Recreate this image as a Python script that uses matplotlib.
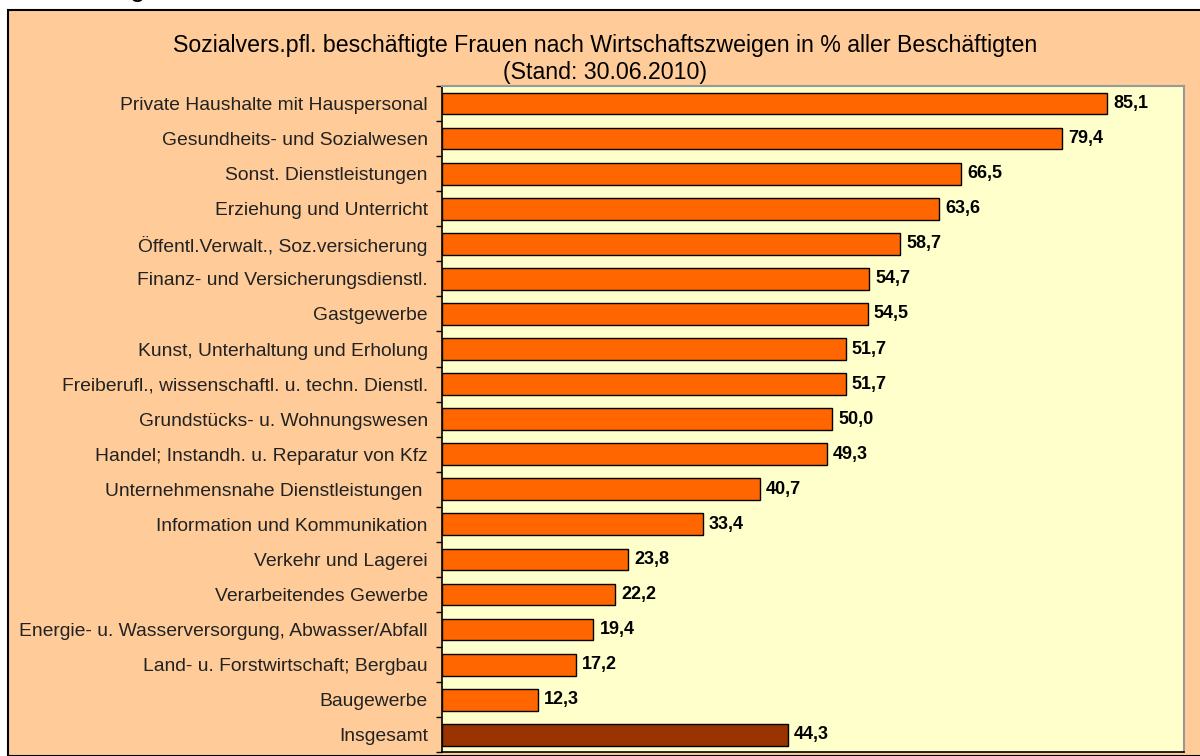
import matplotlib
matplotlib.use("Agg")
import matplotlib.pyplot as plt
from matplotlib.patches import Rectangle
import numpy as np

plt.rcParams['font.family'] = ['Liberation Sans', 'DejaVu Sans']

categories = [
    "Private Haushalte mit Hauspersonal",
    "Gesundheits- und Sozialwesen",
    "Sonst. Dienstleistungen",
    "Erziehung und Unterricht",
    "Öffentl.Verwalt., Soz.versicherung",
    "Finanz- und Versicherungsdienstl.",
    "Gastgewerbe",
    "Kunst, Unterhaltung und Erholung",
    "Freiberufl., wissenschaftl. u. techn. Dienstl.",
    "Grundstücks- u. Wohnungswesen",
    "Handel; Instandh. u. Reparatur von Kfz",
    "Unternehmensnahe Dienstleistungen ",
    "Information und Kommunikation",
    "Verkehr und Lagerei",
    "Verarbeitendes Gewerbe",
    "Energie- u. Wasserversorgung, Abwasser/Abfall",
    "Land- u. Forstwirtschaft; Bergbau",
    "Baugewerbe",
    "Insgesamt",
]
values = [85.1, 79.4, 66.5, 63.6, 58.7, 54.7, 54.5, 51.7, 51.7, 50.0,
          49.3, 40.7, 33.4, 23.8, 22.2, 19.4, 17.2, 12.3, 44.3]
value_labels = ["85,1", "79,4", "66,5", "63,6", "58,7", "54,7", "54,5", "51,7", "51,7", "50,0",
                "49,3", "40,7", "33,4", "23,8", "22,2", "19,4", "17,2", "12,3", "44,3"]
title = "Sozialvers.pfl. beschäftigte Frauen nach Wirtschaftszweigen in % aller Beschäftigten\n(Stand: 30.06.2010)"

W, H = 1200, 756
fig = plt.figure(figsize=(W / 100, H / 100), dpi=100, facecolor='white')

# chart area (peach) with black border
fig.patches.append(Rectangle((8 / W, 0), 1 - 8 / W + 0.01, 1 - 10 / H,
                             transform=fig.transFigure, facecolor='#FFCC99',
                             edgecolor='black', linewidth=1.5, zorder=-5))
# cut-off heading fragment at the top
fig.text(138 / W, 1 + 4 / H, "g", fontsize=20, va='baseline', ha='center', color='black')

left, right = 441.7 / W, 1184 / W
bottom, top = 1 - 752.3 / H, 1 - 86 / H
ax = fig.add_axes([left, bottom, right - left, top - bottom])
ax.set_zorder(2)
ax.set_facecolor('#FFFFCC')

n = len(categories)
y = np.arange(n)
colors = ['#FF6600'] * (n - 1) + ['#993300']
ax.barh(y, values, height=0.62, color=colors, edgecolor='black', linewidth=1.0, zorder=3)

ax.set_xlim(0, 95)
ax.set_ylim(n - 0.5, -0.5)

for yi, v, lab in zip(y, values, value_labels):
    ax.text(v + 0.8, yi, lab, va='center', ha='left', fontsize=13, fontweight='bold',
            color='black', zorder=4)

ax.set_yticks(y)
ax.set_yticklabels(categories, fontsize=13.9, color='#222222')
ax.tick_params(axis='y', which='major', length=0, pad=10)
ax.set_yticks(np.arange(n + 1) - 0.5, minor=True)
ax.tick_params(axis='y', which='minor', length=4.5, width=1.0, direction='out', color='black')
ax.set_xticks([])

for s in ['top', 'right']:
    ax.spines[s].set_color('#999999')
    ax.spines[s].set_linewidth(1.5)
for s in ['left', 'bottom']:
    ax.spines[s].set_color('black')
    ax.spines[s].set_linewidth(1.2)

fig.text(605 / W, 1 - 59 / H, title, ha='center', va='center', fontsize=16.7,
         color='black', linespacing=1.2)

fig.savefig('out.png', dpi=100, facecolor=fig.get_facecolor())
